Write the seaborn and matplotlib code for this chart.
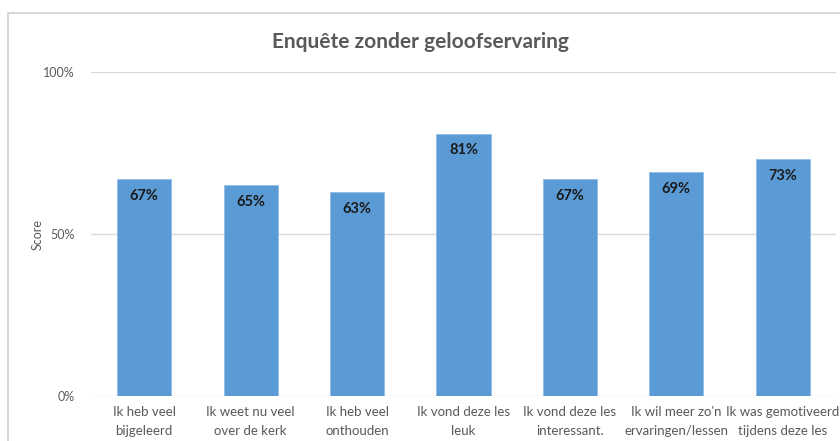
import matplotlib
matplotlib.use("Agg")
import matplotlib.pyplot as plt
import seaborn as sns
import pandas as pd
from matplotlib.patches import Rectangle

categories = ["Ik heb veel\nbijgeleerd", "Ik weet nu veel\nover de kerk", "Ik heb veel\nonthouden",
              "Ik vond deze les\nleuk", "Ik vond deze les\ninteressant.", "Ik wil meer zo'n\nervaringen/lessen",
              "Ik was gemotiveerd\ntijdens deze les"]
scores = [0.67, 0.65, 0.63, 0.81, 0.67, 0.69, 0.73]
yticks = [0, 0.5, 1.0]
ytick_labels = ["0%", "50%", "100%"]
title = "Enquête zonder geloofservaring"

sns.set_theme(style="white")
plt.rcParams['font.family'] = ['Lato', 'DejaVu Sans']

df = pd.DataFrame({"cat": categories, "score": scores})

fig = plt.figure(figsize=(8.4, 4.41), dpi=100)
ax = fig.add_axes([91/840, 1-396/441, (836-91)/840, (396-72)/441])

# chart frame
fig.patches.append(Rectangle((8/840, -0.1), 1.1, 1-13/441+0.1, transform=fig.transFigure,
                             fill=False, edgecolor="#d0d0d0", linewidth=1.2))

sns.barplot(data=df, x="cat", y="score", color="#5B9BD5", width=0.51, ax=ax,
            edgecolor="#8fbde6", linewidth=0.6, saturation=1)

for i, v in enumerate(scores):
    ax.text(i, v - 0.052, f"{round(v*100)}%", ha="center", va="center",
            fontsize=10.5, fontweight="bold", color="#1a1a1a")

ax.set_ylim(0, 1.0)
ax.set_xlim(-0.5, len(categories) - 0.5)
ax.set_yticks(yticks)
ax.set_yticklabels(ytick_labels, fontsize=9, color="#595959")
ax.tick_params(axis="y", length=0, pad=12)
ax.tick_params(axis="x", length=0, pad=7, labelsize=9.5, labelcolor="#595959")
for lbl in ax.get_xticklabels():
    lbl.set_linespacing(1.75)
for s in ax.spines.values():
    s.set_visible(False)
ax.yaxis.grid(True, color="#d9d9d9", linewidth=1)
ax.set_axisbelow(True)
ax.set_xlabel("")
ax.set_ylabel("Score", fontsize=9, color="#595959")
ax.yaxis.set_label_coords(-0.063, 0.5)

fig.text(0.5, 1-42/441, title, ha="center", va="center", fontsize=15,
         fontweight="bold", color="#595959")

fig.savefig("out.png", dpi=100)
